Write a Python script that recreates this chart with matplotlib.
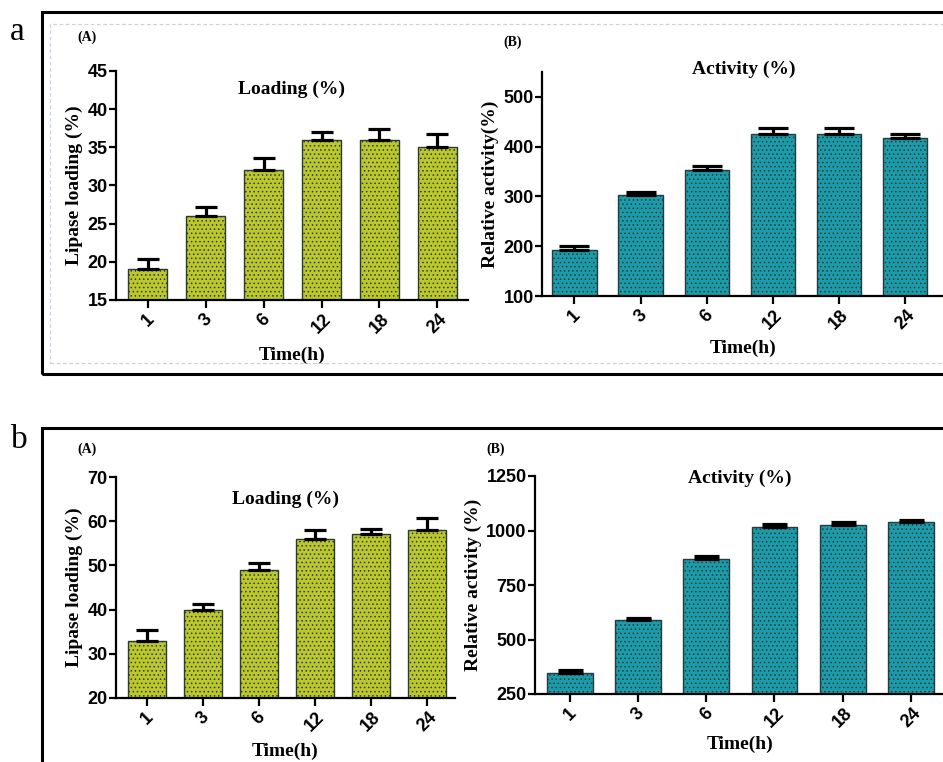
import matplotlib
matplotlib.use('Agg')
import matplotlib.pyplot as plt
from matplotlib.patches import Rectangle

# data
times = ['1', '3', '6', '12', '18', '24']

# panel a
load_a = [19, 26, 32, 36, 36, 35]
load_a_err = [1.4, 1.2, 1.6, 1.0, 1.4, 1.8]
act_a = [192, 302, 354, 425, 426, 417]
act_a_err = [8, 6, 8, 12, 11, 8]

# panel b
load_b = [33, 40, 49, 56, 57, 58]
load_b_err = [2.3, 1.2, 1.6, 2.0, 1.3, 2.8]
act_b = [345, 590, 870, 1015, 1025, 1038]
act_b_err = [13, 10, 12, 13, 13, 12]

W, H = 943, 762
fig = plt.figure(figsize=(W / 100, H / 100), dpi=100)

sans = ['Liberation Sans', 'DejaVu Sans']
serif = ['Liberation Serif', 'DejaVu Serif']
plt.rcParams['hatch.linewidth'] = 0.6

yellow = '#bcc82a'
teal = '#1b9cab'


def px_axes(x0, y0, x1, y1):
    # pixel box (top-left origin) -> figure fraction
    return fig.add_axes([x0 / W, 1 - y1 / H, (x1 - x0) / W, (y1 - y0) / H])


def bar_panel(ax, vals, errs, color, ylim, yticks, xlim, title, ylabel, title_y, xlab_y, cap):
    x = range(len(vals))
    ax.bar(x, vals, width=0.67, color=color, edgecolor='#2a3a3a', linewidth=1.0,
           hatch='....', zorder=2)
    ax.errorbar(x, vals, yerr=[[0] * len(errs), errs], fmt='none', ecolor='black',
                elinewidth=2.3, capsize=cap, capthick=2.3, zorder=3)
    ax.set_ylim(*ylim)
    ax.set_xlim(*xlim)
    ax.set_yticks(yticks)
    ax.set_xticks(list(x))
    ax.set_xticklabels(times, rotation=45, ha='center', va='top')
    for lab in ax.get_xticklabels() + ax.get_yticklabels():
        lab.set_family(sans)
        lab.set_fontweight('bold')
        lab.set_fontsize(13)
    ax.spines['top'].set_visible(False)
    ax.spines['right'].set_visible(False)
    ax.spines['left'].set_linewidth(1.6)
    ax.spines['bottom'].set_linewidth(1.6)
    ax.tick_params(axis='y', length=5, width=1.6, pad=1)
    ax.tick_params(axis='x', length=6, width=1.6, pad=2)
    ax.text(0.5, title_y, title, transform=ax.transAxes, ha='center', va='center',
            family=serif, fontweight='bold', fontsize=14)
    ax.set_ylabel(ylabel, family=serif, fontweight='bold', fontsize=14, labelpad=3)
    ax.text(0.5, xlab_y, 'Time(h)', transform=ax.transAxes, ha='center', va='center',
            family=serif, fontweight='bold', fontsize=14)


# panel a
axA = px_axes(116, 71, 468, 300)
bar_panel(axA, load_a, load_a_err, yellow, (15, 45), range(15, 50, 5), (-0.55, 5.53),
          'Loading (%)', 'Lipase loading (%)', 0.92, -0.24, 8)
axB = px_axes(542, 72, 945, 296)
bar_panel(axB, act_a, act_a_err, teal, (100, 550), range(100, 600, 100), (-0.49, 5.6),
          'Activity (%)', 'Relative activity(%)', 1.01, -0.235, 11)

# panel b
axC = px_axes(116, 477, 455, 698)
bar_panel(axC, load_b, load_b_err, yellow, (20, 70), range(20, 80, 10), (-0.55, 5.5),
          'Loading (%)', 'Lipase loading (%)', 0.9, -0.24, 8)
axD = px_axes(535, 476, 945, 694)
bar_panel(axD, act_b, act_b_err, teal, (250, 1250), range(250, 1500, 250), (-0.51, 5.5),
          'Activity (%)', 'Relative activity (%)', 0.99, -0.23, 9)

# frames around each panel
fig.patches.append(Rectangle((42 / W, 1 - 374 / H), 920 / W, 362 / H, transform=fig.transFigure,
                             fill=False, edgecolor='black', linewidth=2.2))
fig.patches.append(Rectangle((50 / W, 1 - 363 / H), 900 / W, 339 / H, transform=fig.transFigure,
                             fill=False, edgecolor='#c9d2de', linewidth=0.9, linestyle=(0, (3, 2))))
fig.patches.append(Rectangle((42 / W, 1 - 790 / H), 920 / W, 362 / H, transform=fig.transFigure,
                             fill=False, edgecolor='black', linewidth=2.2))

# panel letters and sub-labels
fig.text(17 / W, 1 - 32 / H, 'a', family=serif, fontsize=24, ha='center', va='center')
fig.text(19 / W, 1 - 440 / H, 'b', family=serif, fontsize=24, ha='center', va='center')
for x, y, s in [(87, 37, '(A)'), (513, 42, '(B)'), (87, 449, '(A)'), (496, 449, '(B)')]:
    fig.text(x / W, 1 - y / H, s, family=serif, fontweight='bold', fontsize=10,
             ha='center', va='center')

fig.savefig('out.png', dpi=100)
